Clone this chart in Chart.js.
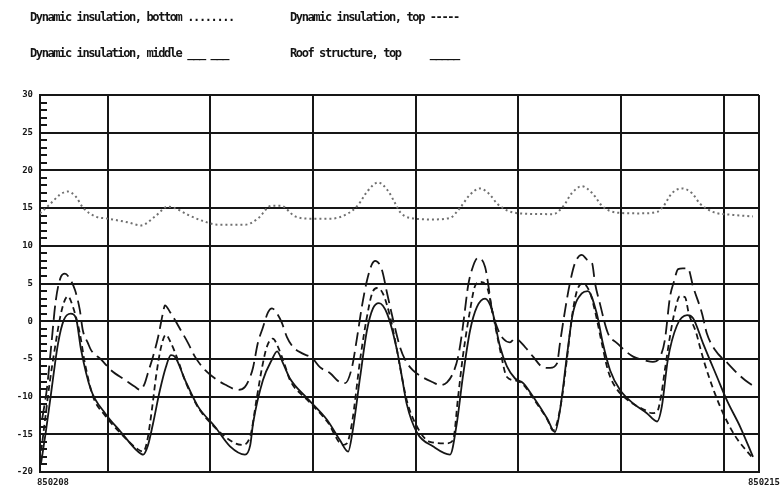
<!DOCTYPE html>
<html>
<head>
<meta charset="utf-8">
<script src="https://cdn.jsdelivr.net/npm/chart.js@4/dist/chart.umd.min.js"></script>
<style>
  html, body { margin: 0; padding: 0; background: #fff; }
  #wrap { position: relative; width: 784px; height: 489px; overflow: hidden; background: #fff; }
  canvas { position: absolute; left: 0; top: 0; }
  .lg { position: absolute; font: bold 12px "DejaVu Sans Mono", "Liberation Mono", monospace; letter-spacing: -1.4px; color: #141414; white-space: pre; line-height: 12px; }
  .xl { position: absolute; font: bold 9px "DejaVu Sans Mono", "Liberation Mono", monospace; letter-spacing: -0.1px; color: #1a1a1a; white-space: pre; line-height: 10px; }
</style>
</head>
<body>
<div id="wrap">
  <canvas id="c" width="784" height="489"></canvas>
  <div class="lg" style="left:30px;top:11px">Dynamic insulation, bottom ........</div>
  <div class="lg" style="left:290px;top:11px">Dynamic insulation, top -----</div>
  <div class="lg" style="left:30px;top:47px">Dynamic insulation, middle ___ ___</div>
  <div class="lg" style="left:290px;top:47px">Roof structure, top     _____</div>
  <div class="xl" style="left:37px;top:477px">850208</div>
  <div class="xl" style="left:748px;top:477px">850215</div>
</div>
<script>
// Time axis in hours from 850208 (start of record) to 850215
const xMin = 0, xMax = 168;
const dayLines = [15.8, 39.8, 63.8, 87.8, 111.8, 135.8, 159.8];
const yTicks = [-20, -15, -10, -5, 0, 5, 10, 15, 20, 25, 30];

// Dynamic insulation, bottom (dotted)
const bottomHours = [0,2.3,4.7,6.5,8.4,10.0,12.9,15.9,20.6,23.6,26.9,29.9,31.5,34.6,38.5,41.6,47.9,50.9,54.0,56.3,59.6,63.3,68.0,72.0,74.3,76.6,79.0,81.3,83.2,84.1,86.4,91.8,95.8,98.1,100.5,102.8,105.1,106.8,109.1,112.1,119.9,122.2,124.3,126.6,129.0,131.5,134.8,140.2,144.2,145.6,147.7,150.0,152.3,154.2,157.2,161.9,166.6];
const bottomTemp  = [14.3,15.5,16.8,17.2,16.5,15.1,13.9,13.6,13.1,12.7,13.9,15.2,15.0,14.1,13.2,12.8,12.8,13.6,15.3,15.3,13.9,13.6,13.6,14.3,15.4,17.3,18.4,17.3,15.4,14.5,13.7,13.5,13.7,15.0,16.8,17.6,16.8,15.6,14.7,14.3,14.2,15.2,17.0,17.9,17.0,15.2,14.4,14.3,14.5,15.2,17.0,17.6,17.0,15.6,14.5,14.1,13.9];

// Dynamic insulation, top (short dashes)
const topHours = [0,1.2,2.3,3.5,4.7,5.6,6.5,7.7,9.3,10.5,12.4,15.2,18.9,22.9,24.1,25.0,26.2,27.1,28.3,29.4,30.6,32.2,33.9,36.9,40.9,45.6,47.2,49.1,50.7,51.9,53.0,54.4,55.6,57.2,58.4,62.4,67.1,70.8,71.7,72.9,74.8,76.4,77.6,78.7,80.1,81.8,83.4,84.1,85.7,88.1,91.1,95.1,96.5,97.7,98.8,100.5,101.6,102.8,104.4,105.8,107.5,109.1,111.4,112.9,115.2,118.5,119.9,120.8,122.0,123.1,124.3,125.5,126.9,128.5,129.7,131.3,132.7,134.3,137.9,141.4,143.0,144.2,145.1,146.0,147.2,148.4,149.5,150.7,151.6,153.3,154.2,155.4,157.5,159.6,162.4,166.6];
const topTemp  = [-18.5,-13,-8,-3.5,0.5,2.5,3.3,1.9,-1.6,-5.6,-10.0,-12.5,-14.9,-17.0,-17.3,-16,-11.5,-7.4,-3.4,-1.8,-2.9,-5.1,-7.9,-11.4,-14.1,-16.2,-16.4,-15.3,-10,-6.1,-3.4,-2.3,-3.4,-5.8,-7.8,-10.4,-13.3,-16.4,-16.2,-13.5,-5.1,0.6,3.7,4.4,3.7,0.6,-3.8,-6,-10.5,-14,-16,-16.2,-15.8,-10,-4.7,1.5,4.6,5.2,4.6,1.0,-3.8,-7.4,-7.9,-8.4,-10.2,-13.0,-14.5,-13.5,-10,-5.1,0.6,4.1,5.0,3.8,1.3,-3.0,-6.5,-8.6,-10.7,-11.8,-12.2,-12.0,-10,-6.5,-2,1.5,3.3,3.2,1.0,-1.5,-3.4,-5.8,-9.3,-12.2,-15.2,-18.2];

// Dynamic insulation, middle (long dashes)
const middleHours = [0.5,1.6,2.6,3.7,4.9,5.8,7.2,8.2,9.3,10.0,11.2,11.9,14.3,16.6,19.9,22.2,23.4,24.5,25.2,26.4,27.6,28.7,29.2,30.4,31.5,32.9,34.6,36.2,38.6,40.9,43.2,46.3,47.9,49.1,49.8,50.9,52.1,53.3,54.2,55.4,56.5,57.7,59.1,61.4,63.6,65.4,67.8,70.1,71.3,72.9,74.1,75.2,76.4,77.6,78.3,79.9,81.1,82.5,84.1,85.3,87.1,89.3,91.8,93.5,95.1,96.5,97.7,98.6,99.3,100.0,100.9,102.3,104.0,104.7,105.6,106.8,108.2,109.8,111.0,113.3,115.2,117.5,119.2,120.8,121.5,122.7,123.8,125.0,126.6,128.0,129.0,129.7,130.8,132.7,134.8,138.6,141.4,143.2,144.9,146.0,147.2,148.1,149.1,150.2,151.4,152.6,154.7,155.8,157.7,160.7,162.9,164.7,166.4];
const middleTemp  = [-13,-9,-3.4,2.8,5.9,6.3,5.4,4.1,1.5,-1.2,-2.9,-3.8,-5.1,-6.5,-7.8,-8.7,-9.1,-8.2,-6.9,-4.7,-2.1,1.0,2.1,1.2,0.2,-1.2,-2.9,-4.7,-6.5,-7.6,-8.4,-9.1,-8.7,-7.4,-6.1,-2.9,-0.8,1.2,1.7,1.0,-0.2,-2.1,-3.4,-4.3,-4.9,-6.1,-6.9,-8.1,-8.2,-6.1,-2.1,1.9,5.4,7.6,8.0,6.8,3.7,0.2,-3.4,-5.1,-6.5,-7.4,-8.1,-8.5,-8.1,-6.9,-4.7,-1.6,1.5,4.6,6.8,8.4,7.2,5.0,1.5,-0.8,-2.3,-2.8,-2.3,-3.4,-4.7,-6.1,-6.2,-5.6,-2.9,1.5,5.0,7.7,8.8,8.1,7.7,5.0,2.4,-1.6,-2.9,-4.7,-5.2,-5.4,-4.7,-2.5,3.2,5.2,6.9,7.0,7.0,4.6,1.0,-1.6,-3.8,-5.6,-6.9,-7.8,-8.5];

// Roof structure, top (solid)
const roofHours = [0.2,1.4,2.6,4.2,5.6,7.2,8.4,9.6,11.9,15.2,18.9,22.9,24.1,25.2,26.4,28.0,29.4,30.6,31.5,33.9,36.9,40.9,44.4,47.9,49.1,49.8,52.1,54.2,55.4,56.8,58.4,62.4,67.1,70.1,72.0,73.1,74.8,76.4,77.8,79.2,81.1,83.4,84.6,85.7,88.1,91.8,95.8,97.4,98.8,100.5,102.1,104.0,105.6,107.5,109.1,111.0,112.9,115.2,118.5,120.3,121.5,123.1,124.5,126.6,128.0,130.1,131.5,133.2,135.5,138.6,141.8,144.2,145.3,146.7,148.8,151.2,152.6,154.9,158.2,160.5,163.6,166.6];
const roofTemp  = [-19.0,-14.5,-9.5,-3.0,0.2,1.0,0.4,-3.8,-9.1,-12.2,-14.7,-17.3,-17.7,-16.5,-13.6,-9.2,-6.1,-4.5,-4.7,-7.8,-11.3,-14.0,-16.6,-17.7,-16.5,-13.5,-7.8,-5.1,-4.0,-5.6,-7.6,-10.2,-13.1,-15.8,-17.3,-14.4,-7.4,-1.2,1.7,2.4,1.0,-3.8,-7.5,-11.0,-14.8,-16.6,-17.7,-13.5,-7.4,-1.2,1.9,3.0,1.5,-3.4,-6.0,-7.6,-8.2,-10.0,-12.9,-14.7,-11.8,-4.7,1.0,3.7,4.0,1.0,-2.9,-6.5,-9.1,-10.9,-12.2,-13.3,-11.3,-5.1,-0.6,0.8,0.4,-2.9,-7.4,-10.5,-14.0,-18.0];

const pts = (xs, ys) => xs.map((x, i) => ({ x: x, y: ys[i] }));
const ink = '#161616';

const minorTicks = {
  id: 'minorTicks',
  afterDatasetsDraw(chart) {
    const ctx = chart.ctx, y = chart.scales.y, a = chart.chartArea;
    ctx.save();
    ctx.strokeStyle = ink;
    ctx.lineWidth = 2;
    for (let v = -20; v <= 30; v++) {
      if (v % 5 === 0) continue;
      const py = Math.round(y.getPixelForValue(v));
      ctx.beginPath();
      ctx.moveTo(a.left, py);
      ctx.lineTo(a.left + 7, py);
      ctx.stroke();
    }
    ctx.restore();
  }
};

new Chart(document.getElementById('c'), {
  type: 'line',
  data: {
    datasets: [
      { label: 'Dynamic insulation, bottom', data: pts(bottomHours, bottomTemp), borderColor: '#707070', borderWidth: 2, borderDash: [2, 3], pointRadius: 0, cubicInterpolationMode: 'monotone' },
      { label: 'Dynamic insulation, top', data: pts(topHours, topTemp), borderColor: ink, borderWidth: 1.8, borderDash: [6, 4], pointRadius: 0, cubicInterpolationMode: 'monotone' },
      { label: 'Dynamic insulation, middle', data: pts(middleHours, middleTemp), borderColor: ink, borderWidth: 1.8, borderDash: [14, 6], pointRadius: 0, cubicInterpolationMode: 'monotone' },
      { label: 'Roof structure, top', data: pts(roofHours, roofTemp), borderColor: ink, borderWidth: 1.8, pointRadius: 0, cubicInterpolationMode: 'monotone' }
    ]
  },
  options: {
    responsive: false,
    animation: false,
    devicePixelRatio: 1,
    layout: { padding: { top: 95, right: 25, bottom: 17, left: 0 } },
    plugins: { legend: { display: false }, tooltip: { enabled: false } },
    scales: {
      x: {
        type: 'linear', min: xMin, max: xMax,
        afterBuildTicks: (s) => { s.ticks = [xMin, ...dayLines, xMax].map(v => ({ value: v })); },
        ticks: { display: false },
        grid: { color: ink, lineWidth: 2, drawTicks: false },
        border: { display: true, color: ink, width: 2 }
      },
      y: {
        min: -20, max: 30,
        afterBuildTicks: (s) => { s.ticks = yTicks.map(v => ({ value: v })); },
        afterFit: (s) => { s.width = 40; },
        ticks: { color: ink, padding: 7, font: { family: '"DejaVu Sans Mono", monospace', size: 9, weight: 'bold' } },
        grid: { color: ink, lineWidth: 2, drawTicks: false },
        border: { display: true, color: ink, width: 2 }
      }
    }
  },
  plugins: [minorTicks]
});
</script>
</body>
</html>
